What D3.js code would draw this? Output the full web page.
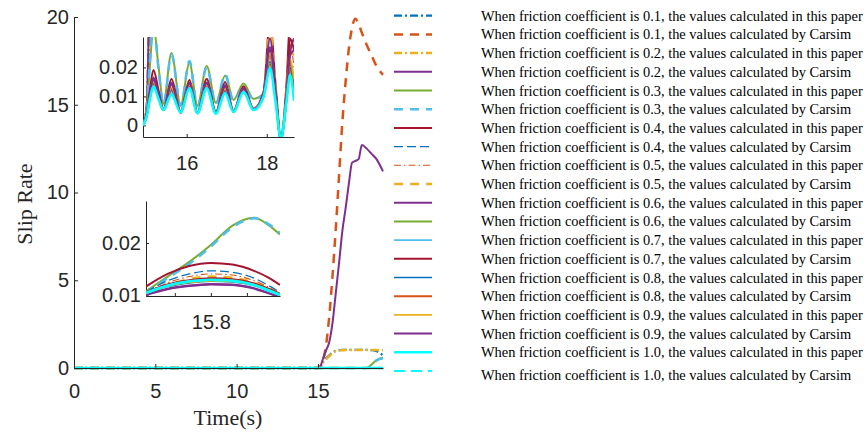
<!DOCTYPE html>
<html>
<head>
<meta charset="utf-8">
<script src="https://cdn.jsdelivr.net/npm/d3@7"></script>
<style>
  html, body { margin: 0; padding: 0; background: #fff; }
  svg { display: block; }
</style>
</head>
<body>
<svg id="chart" width="865" height="432"></svg>
<script>
// ---- legend text -------------------------------------------------------
const coefficients = ["0.1", "0.2", "0.3", "0.4", "0.5", "0.6", "0.7", "0.8", "0.9", "1.0"];
const sourceNames = ["the values calculated in this paper", "the values calculated by Carsim"];

// ---- axis ticks ---------------------------------------------------------
const timeTicks = [0, 5, 10, 15];
const slipTicks = [0, 5, 10, 15, 20];
const detailATimeTicks = [16, 18];
const detailASlipTicks = [0, 0.01, 0.02];
const detailBTimeTicks = [15.75, 15.8, 15.85];
const detailBTimeLabels = ["", "15.8", ""];
const detailBSlipTicks = [0.01, 0.02];

// ---- full run, 0-19 s (one row per series, legend order) ----------------
const mainTime = [0, 15.0, 15.15, 15.3, 15.5, 15.7, 15.9, 16.1, 16.3, 16.5, 16.7, 16.9, 17.1, 17.3, 17.5, 17.7, 18.0, 18.3, 18.6, 19.0];
const mainSlip = [
  [0, 0, 0.1, 0.35, 0.55, 0.72, 0.88, 0.98, 1.02, 1.03, 1.03, 1.03, 1.03, 1.03, 1.03, 1.03, 1.03, 1.02, 0.96, 0.72],
  [0, 0, 0.05, 0.4, 1.3, 3.0, 5.3, 8.0, 11.0, 14.0, 16.3, 18.2, 19.4, 19.9, 19.6, 19.1, 18.4, 17.8, 17.2, 16.7],
  [0, 0, 0.08, 0.3, 0.5, 0.68, 0.85, 0.96, 1.0, 1.01, 1.02, 1.02, 1.02, 1.02, 1.02, 1.02, 1.02, 1.02, 1.02, 1.01],
  [0, 0, 0.1, 0.5, 1.0, 1.5, 2.6, 4.3, 6.0, 7.8, 9.1, 10.5, 11.7, 11.8, 11.9, 12.7, 12.5, 12.2, 11.9, 11.2],
  [0, 0, 0, 0, 0, 0, 0, 0, 0, 0, 0, 0, 0, 0, 0, 0, 0, 0.2, 0.45, 0.58],
  [0, 0, 0, 0, 0, 0, 0, 0, 0, 0, 0, 0, 0, 0, 0, 0, 0, 0.15, 0.42, 0.55],
  [0, 0, 0, 0, 0, 0, 0, 0, 0, 0, 0, 0, 0, 0, 0, 0, 0, 0, 0, 0],
  [0, 0, 0, 0, 0, 0, 0, 0, 0, 0, 0, 0, 0, 0, 0, 0, 0, 0, 0, 0],
  [0, 0, 0, 0, 0, 0, 0, 0, 0, 0, 0, 0, 0, 0, 0, 0, 0, 0, 0, 0],
  [0, 0, 0, 0, 0, 0, 0, 0, 0, 0, 0, 0, 0, 0, 0, 0, 0, 0, 0, 0],
  [0, 0, 0, 0, 0, 0, 0, 0, 0, 0, 0, 0, 0, 0, 0, 0, 0, 0, 0, 0],
  [0, 0, 0, 0, 0, 0, 0, 0, 0, 0, 0, 0, 0, 0, 0, 0, 0, 0, 0, 0],
  [0, 0, 0, 0, 0, 0, 0, 0, 0, 0, 0, 0, 0, 0, 0, 0, 0, 0, 0, 0],
  [0, 0, 0, 0, 0, 0, 0, 0, 0, 0, 0, 0, 0, 0, 0, 0, 0, 0, 0, 0],
  [0, 0, 0, 0, 0, 0, 0, 0, 0, 0, 0, 0, 0, 0, 0, 0, 0, 0, 0, 0],
  [0, 0, 0, 0, 0, 0, 0, 0, 0, 0, 0, 0, 0, 0, 0, 0, 0, 0, 0, 0],
  [0, 0, 0, 0, 0, 0, 0, 0, 0, 0, 0, 0, 0, 0, 0, 0, 0, 0, 0, 0],
  [0, 0, 0, 0, 0, 0, 0, 0, 0, 0, 0, 0, 0, 0, 0, 0, 0, 0, 0, 0],
  [0, 0, 0, 0, 0, 0, 0, 0, 0, 0, 0, 0, 0, 0, 0, 0, 0, 0, 0, 0],
  [0, 0, 0, 0, 0, 0, 0, 0, 0, 0, 0, 0, 0, 0, 0, 0, 0, 0, 0, 0]
];

// ---- detail A: 14.9-18.7 s, small slip oscillations ---------------------
const detailATime = [14.91, 15.0, 15.08, 15.17, 15.3, 15.42, 15.62, 15.85, 16.07, 16.27, 16.5, 16.73, 16.96, 17.17, 17.42, 17.67, 17.92, 18.08, 18.22, 18.35, 18.5, 18.58, 18.68];
const detailASlip = [
  [0, 0.006, 0.05, 0.1, 0.2, 0.3, 0.5, 0.7, 0.9, 1.0, 1.02, 1.03, 1.03, 1.03, 1.03, 1.03, 1.03, 1.03, 1.03, 1.02, 1.0, 0.98, 0.95],
  [0, 0.004, 0.04, 0.1, 0.4, 1.0, 2.4, 5.0, 7.6, 10.6, 14.0, 16.6, 18.6, 19.6, 19.8, 19.2, 18.6, 18.3, 18.0, 17.7, 17.5, 17.3, 17.1],
  [0, 0.005, 0.045, 0.09, 0.25, 0.45, 0.62, 0.82, 0.95, 1.0, 1.01, 1.02, 1.02, 1.02, 1.02, 1.02, 1.02, 1.02, 1.02, 1.02, 1.02, 1.02, 1.02],
  [0, 0.006, 0.05, 0.1, 0.4, 0.8, 1.3, 2.3, 4.0, 5.6, 7.8, 9.4, 11.0, 11.7, 11.9, 12.6, 12.6, 12.5, 12.3, 12.2, 12.1, 12.0, 11.9],
  [0, 0.005, 0.02, 0.034, 0.02, 0.0075, 0.025, 0.007, 0.0215, 0.0068, 0.0205, 0.0078, 0.0172, 0.0088, 0.0145, 0.0092, 0.011, 0.0262, 0.012, -0.004, 0.012, 0.021, 0.012],
  [0, 0.005, 0.022, 0.036, 0.019, 0.0072, 0.0245, 0.0068, 0.0222, 0.0066, 0.02, 0.0075, 0.0176, 0.0085, 0.013, 0.009, 0.0108, 0.0255, 0.0115, -0.0045, 0.0115, 0.02, 0.011],
  [0, 0.004, 0.012, 0.0191, 0.012, 0.0055, 0.016, 0.0048, 0.0157, 0.0045, 0.016, 0.0046, 0.015, 0.005, 0.0135, 0.0058, 0.0115, 0.036, 0.014, -0.005, 0.016, 0.036, 0.034],
  [0, 0.0035, 0.01, 0.016, 0.011, 0.0055, 0.0145, 0.0046, 0.0148, 0.0045, 0.015, 0.0046, 0.014, 0.005, 0.0128, 0.0056, 0.0112, 0.024, 0.011, -0.0045, 0.011, 0.022, 0.012],
  [0, 0.0035, 0.01, 0.0155, 0.0105, 0.0054, 0.014, 0.0046, 0.0145, 0.0044, 0.0145, 0.0045, 0.0135, 0.005, 0.0125, 0.0056, 0.011, 0.032, 0.012, -0.0045, 0.012, 0.028, 0.02],
  [0, 0.0035, 0.01, 0.015, 0.01, 0.0054, 0.0138, 0.0045, 0.0142, 0.0043, 0.0142, 0.0044, 0.0132, 0.0049, 0.0124, 0.0055, 0.011, 0.034, 0.013, -0.0045, 0.013, 0.026, 0.024],
  [0, 0.0035, 0.011, 0.0165, 0.011, 0.0053, 0.0148, 0.0044, 0.0147, 0.0042, 0.0148, 0.0043, 0.0138, 0.0048, 0.0128, 0.0055, 0.0112, 0.03, 0.012, -0.005, 0.012, 0.025, 0.03],
  [0, 0.003, 0.009, 0.014, 0.0095, 0.0053, 0.012, 0.0045, 0.0132, 0.0043, 0.0132, 0.0042, 0.012, 0.0047, 0.0118, 0.0054, 0.0102, 0.021, 0.009, -0.0045, 0.01, 0.019, 0.011],
  [0, 0.003, 0.009, 0.0136, 0.009, 0.0053, 0.0112, 0.0045, 0.013, 0.0042, 0.013, 0.0041, 0.0114, 0.0046, 0.0116, 0.0053, 0.0099, 0.02, 0.0085, -0.0045, 0.0095, 0.0178, 0.0095],
  [0, 0.0035, 0.01, 0.015, 0.01, 0.0054, 0.013, 0.0046, 0.0138, 0.0044, 0.014, 0.0044, 0.0128, 0.0048, 0.0122, 0.0055, 0.0108, 0.026, 0.011, -0.0045, 0.011, 0.03, 0.026],
  [0, 0.003, 0.009, 0.0142, 0.0095, 0.0053, 0.0122, 0.0045, 0.0134, 0.0043, 0.0134, 0.0042, 0.012, 0.0047, 0.0119, 0.0054, 0.0103, 0.022, 0.0095, -0.0045, 0.01, 0.02, 0.012],
  [0, 0.0032, 0.0095, 0.0148, 0.0098, 0.0054, 0.0128, 0.0045, 0.0138, 0.0043, 0.0138, 0.0043, 0.0126, 0.0048, 0.0122, 0.0055, 0.0106, 0.024, 0.01, -0.0045, 0.0105, 0.022, 0.014],
  [0, 0.0032, 0.0095, 0.015, 0.0099, 0.0054, 0.0132, 0.0045, 0.014, 0.0043, 0.014, 0.0043, 0.0128, 0.0048, 0.0123, 0.0055, 0.0107, 0.025, 0.0105, -0.0045, 0.011, 0.023, 0.016],
  [0, 0.0033, 0.01, 0.0158, 0.0105, 0.0053, 0.0142, 0.0044, 0.0145, 0.0042, 0.0146, 0.0043, 0.0134, 0.0048, 0.0126, 0.0055, 0.011, 0.027, 0.011, -0.005, 0.0115, 0.024, 0.026],
  [0, 0.003, 0.009, 0.0134, 0.009, 0.0053, 0.0107, 0.0045, 0.0128, 0.0042, 0.0128, 0.004, 0.0112, 0.0046, 0.0115, 0.0053, 0.0098, 0.0197, 0.008, -0.0045, 0.009, 0.0174, 0.0085],
  [0, 0.003, 0.009, 0.0133, 0.009, 0.0053, 0.0108, 0.0045, 0.0127, 0.0042, 0.0127, 0.0041, 0.0111, 0.0046, 0.0114, 0.0053, 0.0098, 0.0195, 0.0082, -0.0045, 0.0092, 0.0172, 0.0088]
];

// ---- detail B: 15.71-15.9 s ----------------------------------------------
const detailBTime = [15.71, 15.74, 15.77, 15.8, 15.83, 15.86, 15.88, 15.896];
const detailBSlip = [
  [0.70, 0.74, 0.79, 0.83, 0.87, 0.90, 0.92, 0.93],
  [3.1, 3.4, 3.8, 4.2, 4.6, 5.0, 5.3, 5.5],
  [0.68, 0.72, 0.77, 0.81, 0.85, 0.88, 0.90, 0.91],
  [1.5, 1.6, 1.8, 2.0, 2.2, 2.4, 2.6, 2.7],
  [0.0108, 0.0136, 0.0164, 0.0196, 0.0233, 0.0248, 0.0234, 0.0216],
  [0.0106, 0.0133, 0.016, 0.0193, 0.023, 0.0247, 0.0236, 0.0219],
  [0.0117, 0.0141, 0.0156, 0.0162, 0.0159, 0.0147, 0.0134, 0.012],
  [0.0107, 0.0128, 0.0141, 0.0147, 0.0144, 0.0133, 0.0119, 0.0106],
  [0.0105, 0.0124, 0.0136, 0.0141, 0.0139, 0.0128, 0.0116, 0.0104],
  [0.0104, 0.012, 0.0131, 0.0136, 0.0134, 0.0124, 0.0113, 0.0102],
  [0.0102, 0.0113, 0.0119, 0.0122, 0.0121, 0.0114, 0.0105, 0.0096],
  [0.0107, 0.0119, 0.0126, 0.0129, 0.0128, 0.0121, 0.0111, 0.0101],
  [0.0106, 0.012, 0.0127, 0.0131, 0.0129, 0.0121, 0.0111, 0.0102],
  [0.0106, 0.0121, 0.0129, 0.0133, 0.0131, 0.0123, 0.0113, 0.0103],
  [0.0104, 0.0117, 0.0124, 0.0127, 0.0126, 0.0119, 0.0109, 0.01],
  [0.0105, 0.0119, 0.0127, 0.013, 0.0129, 0.0121, 0.0111, 0.0101],
  [0.0104, 0.0118, 0.0125, 0.0128, 0.0127, 0.012, 0.011, 0.01],
  [0.0101, 0.0112, 0.0118, 0.0121, 0.012, 0.0113, 0.0104, 0.0097],
  [0.0105, 0.0119, 0.0127, 0.013, 0.0128, 0.012, 0.011, 0.0101],
  [0.0104, 0.0118, 0.0126, 0.0129, 0.0127, 0.0119, 0.0109, 0.01]
];

// ---- line styles (legend order) -----------------------------------------
const lineColors = ["#0072BD", "#D95319", "#EDB120", "#7E2F8E", "#77AC30", "#4DBEEE", "#A2142F",
                    "#0072BD", "#D95319", "#EDB120", "#7E2F8E", "#77AC30", "#4DBEEE", "#A2142F",
                    "#0072BD", "#D95319", "#EDB120", "#7E2F8E", "#00FFFF", "#00FFFF"];
const lineDashes = ["8,3,2,3", "9,7", "8,3,2,3", null, null, "9,7", null,
                    "9,4", "7,3,1.5,3", "9,7", null, null, null, null,
                    null, null, null, null, null, "11,6"];
const lineWidths = [2.3, 2.5, 2.5, 2, 2, 2.5, 2, 1.3, 1.1, 2.5, 2, 2, 1.6, 2, 1.6, 2, 1.8, 2, 2.5, 2];

// ---- drawing ---------------------------------------------------------------
const ink = "#262626";
const tickFont = "'Liberation Sans', Arial, sans-serif";
const serifFont = "'Liberation Serif', 'Times New Roman', serif";

const svg = d3.select("#chart");
const defs = svg.append("defs");

const seriesLabels = coefficients.flatMap(c => sourceNames.map(s => `When friction coefficient is ${c}, ${s}`));

function styleAxis(g, fontSize) {
  g.select(".domain").attr("stroke", ink).attr("stroke-width", 1);
  g.selectAll(".tick line").attr("stroke", ink).attr("stroke-width", 1);
  g.selectAll(".tick text").attr("fill", ink).style("font-family", tickFont).style("font-size", fontSize + "px");
}

// Draws one set of axes (left + bottom, box off) with all series clipped to it.
function drawPanel(opts) {
  const { id, xDomain, yDomain, box, times, values, xTicks, xLabels, yTicks, yFmt, tick, xPad, yPad, clipPad, background, axesOnTop } = opts;
  const x = d3.scaleLinear().domain(xDomain).range([box.left, box.right]);
  const y = d3.scaleLinear().domain(yDomain).range([box.bottom, box.top]);
  const g = svg.append("g").attr("class", id);

  if (background) {
    g.append("rect").attr("x", box.left).attr("y", box.top)
      .attr("width", box.right - box.left).attr("height", box.bottom - box.top)
      .attr("fill", "#fff");
  }

  const lineLayer = g.append("g").attr("clip-path", `url(#${id}-clip)`);
  const axisLayer = axesOnTop ? g.append("g") : g.insert("g", () => lineLayer.node());

  const xAxis = d3.axisBottom(x).tickValues(xTicks).tickSize(-tick).tickSizeOuter(0).tickPadding(xPad)
    .tickFormat((d, i) => xLabels ? xLabels[i] : d3.format("")(d));
  const yAxis = d3.axisLeft(y).tickValues(yTicks).tickSize(-tick).tickSizeOuter(0).tickPadding(yPad)
    .tickFormat(yFmt);

  const gx = axisLayer.append("g").attr("transform", `translate(0,${box.bottom})`).call(xAxis);
  const gy = axisLayer.append("g").attr("transform", `translate(${box.left},0)`).call(yAxis);
  styleAxis(gx, 20);
  styleAxis(gy, 20);

  defs.append("clipPath").attr("id", id + "-clip")
    .append("rect")
    .attr("x", box.left - clipPad.l).attr("y", box.top - clipPad.t)
    .attr("width", box.right - box.left + clipPad.l + clipPad.r)
    .attr("height", box.bottom - box.top + clipPad.t + clipPad.b);

  const line = d3.line().x(d => x(d[0])).y(d => y(d[1])).curve(d3.curveMonotoneX);
  lineLayer.selectAll("path")
    .data(values)
    .join("path")
    .attr("d", row => line(row.map((v, i) => [times[i], v])))
    .attr("fill", "none")
    .attr("stroke", (row, i) => lineColors[i])
    .attr("stroke-width", (row, i) => lineWidths[i])
    .attr("stroke-dasharray", (row, i) => lineDashes[i])
    .attr("stroke-linejoin", "round");
  return { x, y, g };
}

// main axes
drawPanel({
  id: "main",
  xDomain: [0, 19], yDomain: [0, 20],
  box: { left: 74, right: 383, top: 17, bottom: 368 },
  times: mainTime, values: mainSlip,
  xTicks: timeTicks, yTicks: slipTicks, yFmt: d3.format("d"),
  tick: 4, xPad: 16, yPad: 5,
  clipPad: { l: 0, r: 2, t: 2, b: 2 },
  axesOnTop: true
});

// detail A: 14.9-18.7 s
drawPanel({
  id: "detailA",
  xDomain: [14.91, 18.68], yDomain: [-0.004, 0.0305],
  box: { left: 143, right: 294, top: 37, bottom: 137 },
  times: detailATime, values: detailASlip,
  xTicks: detailATimeTicks, yTicks: detailASlipTicks,
  yFmt: d => d === 0 ? "0" : d3.format(".2f")(d),
  tick: 3, xPad: 19, yPad: 5,
  clipPad: { l: 0, r: 0, t: 0, b: 0 },
  background: true
});

// detail B: 15.71-15.9 s
drawPanel({
  id: "detailB",
  xDomain: [15.71, 15.896], yDomain: [0.0099, 0.028],
  box: { left: 146, right: 280, top: 201, bottom: 296 },
  times: detailBTime, values: detailBSlip,
  xTicks: detailBTimeTicks, xLabels: detailBTimeLabels, yTicks: detailBSlipTicks,
  yFmt: d3.format(".2f"),
  tick: 3, xPad: 19, yPad: 5,
  clipPad: { l: 0, r: 0, t: 0, b: 0 },
  background: true
});

// axis titles
svg.append("text")
  .attr("x", 228).attr("y", 425)
  .attr("text-anchor", "middle")
  .style("font-family", serifFont).style("font-size", "22px").attr("fill", ink)
  .text("Time(s)");

svg.append("text")
  .attr("transform", "translate(32,204) rotate(-90)")
  .attr("text-anchor", "middle")
  .style("font-family", serifFont).style("font-size", "22px").attr("fill", ink)
  .text("Slip Rate");

// legend
const legendRowY = i => (i < 19 ? 15.7 + 18.7 * i : 371);
const legend = svg.append("g").attr("class", "legend");
const rows = legend.selectAll("g").data(seriesLabels).join("g");

rows.append("line")
  .attr("x1", 394).attr("x2", 432)
  .attr("y1", (d, i) => legendRowY(i)).attr("y2", (d, i) => legendRowY(i))
  .attr("stroke", (d, i) => lineColors[i])
  .attr("stroke-width", (d, i) => lineWidths[i])
  .attr("stroke-dasharray", (d, i) => lineDashes[i]);

const labels = rows.append("text")
  .attr("x", 481)
  .attr("y", (d, i) => legendRowY(i) + (i === 19 ? 4 : 0))
  .attr("dy", "0.35em")
  .style("font-family", serifFont).style("font-size", "13px").attr("fill", "#000")
  .text(d => d);

// fit the legend font so the longest entry spans the legend column
const firstWidth = labels.node().getComputedTextLength();
labels.style("font-size", (13 * 382 / firstWidth).toFixed(2) + "px");
</script>
</body>
</html>
